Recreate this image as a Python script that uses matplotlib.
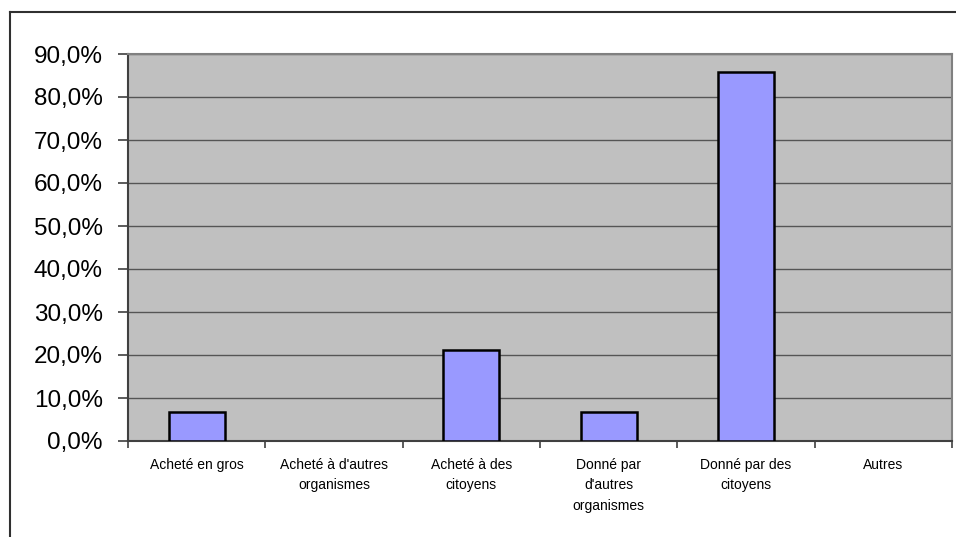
import matplotlib.pyplot as plt
from matplotlib.lines import Line2D
from matplotlib.ticker import FuncFormatter, FixedLocator
import numpy as np

# data
categories = ["Acheté en gros", "Acheté à d'autres\norganismes", "Acheté à des\ncitoyens",
              "Donné par\nd'autres\norganismes", "Donné par des\ncitoyens", "Autres"]
values = [6.7, 0.0, 21.2, 6.7, 85.9, 0.0]
yticks = [0, 10, 20, 30, 40, 50, 60, 70, 80, 90]

plt.rcParams['font.family'] = ['Liberation Sans', 'DejaVu Sans']

fig = plt.figure(figsize=(9.56, 5.37), dpi=100)
W, H = 956.0, 537.0
ax = fig.add_axes([128 / W, 1 - 441 / H, (952 - 128) / W, (441 - 54) / H])
ax.set_facecolor('#C0C0C0')

x = np.arange(len(categories))
lw = [1.8 if v > 0 else 0 for v in values]
ax.bar(x, values, width=0.41, color='#9999FF', edgecolor='black', linewidth=lw, zorder=3)

ax.set_xlim(-0.5, len(categories) - 0.5)
ax.set_ylim(0, 90)
ax.set_yticks(yticks)
ax.yaxis.set_major_formatter(FuncFormatter(lambda v, p: ("%.1f%%" % v).replace('.', ',')))
ax.grid(axis='y', color='#555555', linewidth=1.0, zorder=1)

# x ticks at category boundaries, labels centred
ax.xaxis.set_major_locator(FixedLocator(np.arange(-0.5, len(categories), 1.0)))
ax.set_xticklabels([])
ax.xaxis.set_minor_locator(FixedLocator(x))
ax.set_xticklabels(categories, minor=True, fontsize=10, linespacing=1.6, va='top')
ax.tick_params(axis='x', which='minor', length=0, pad=12)
ax.tick_params(axis='x', which='major', length=5, width=1.2, color='#404040', direction='out')
ax.tick_params(axis='y', length=7, width=1.2, color='#404040', direction='out', labelsize=17.5, pad=11)

for s in ['top', 'right']:
    ax.spines[s].set_color('#808080')
    ax.spines[s].set_linewidth(1.5)
for s in ['left', 'bottom']:
    ax.spines[s].set_color('#404040')
    ax.spines[s].set_linewidth(1.5)

# outer chart border (clipped on right and bottom)
fig.add_artist(Line2D([10 / W, 1.0], [1 - 12 / H, 1 - 12 / H], color='#303030', linewidth=1.5))
fig.add_artist(Line2D([10 / W, 10 / W], [0.0, 1 - 12 / H], color='#303030', linewidth=1.5))

plt.savefig('out.png', dpi=100)
plt.close()
